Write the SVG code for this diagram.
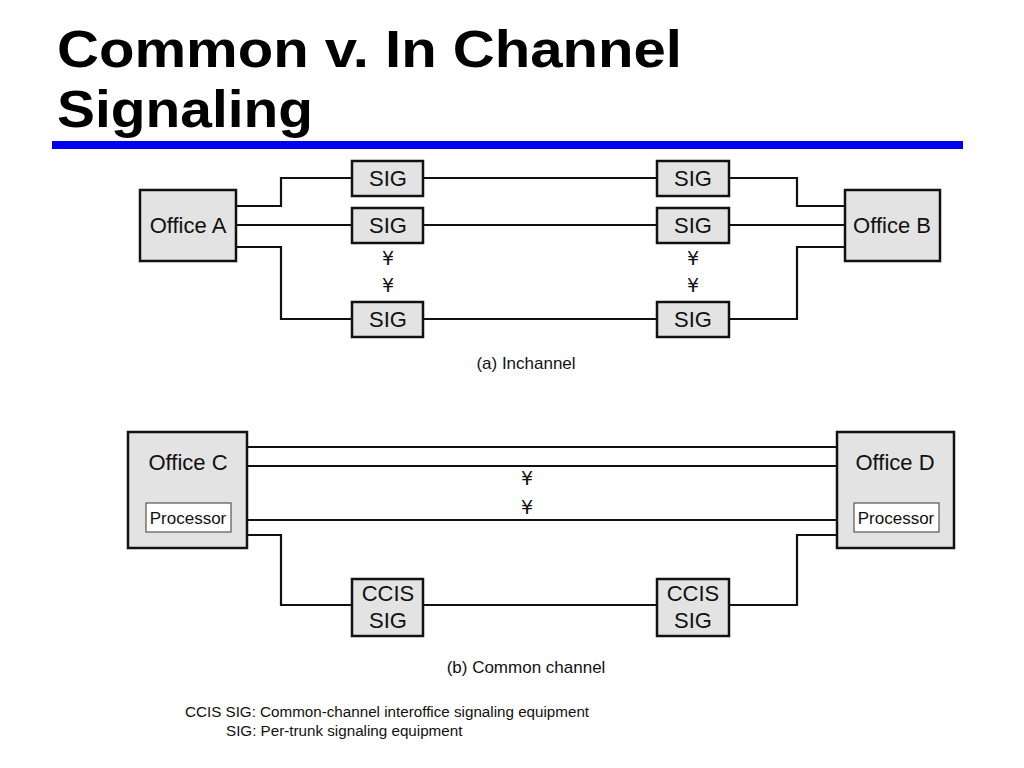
<svg xmlns="http://www.w3.org/2000/svg" width="1024" height="768" viewBox="0 0 1024 768">
<style>
.box{fill:#e3e3e3;stroke:#111;stroke-width:2.5}
.proc{fill:#fff;stroke:#555;stroke-width:1.2}
.ln{fill:none;stroke:#111;stroke-width:2.2}
.t{font-family:"Liberation Sans",Arial,sans-serif;fill:#111;text-anchor:middle}
.l{font-size:22px}
.s{font-size:17px}
.y{font-family:"DejaVu Sans","Liberation Sans",sans-serif;font-size:19px;fill:#111;text-anchor:middle}
.title{font-family:"Liberation Sans",Arial,sans-serif;font-weight:bold;font-size:52px;fill:#000}
.leg{font-family:"Liberation Sans",Arial,sans-serif;font-size:15.2px;fill:#111}
</style>
<rect width="1024" height="768" fill="#fff"/>
<text class="title" x="57" y="67" textLength="625" lengthAdjust="spacingAndGlyphs">Common v. In Channel</text>
<text class="title" x="57" y="127" textLength="256" lengthAdjust="spacingAndGlyphs">Signaling</text>
<rect x="52" y="141" width="911" height="8" fill="#0000ee"/>

<g id="connectors">
<polyline class="ln" points="236,206 281,206 281,178 352,178"/>
<line class="ln" x1="236" y1="225" x2="352" y2="225"/>
<polyline class="ln" points="236,247 281,247 281,319 352,319"/>
<line class="ln" x1="423" y1="178" x2="657" y2="178"/>
<line class="ln" x1="423" y1="225" x2="657" y2="225"/>
<line class="ln" x1="423" y1="319" x2="657" y2="319"/>
<polyline class="ln" points="729,178 797,178 797,206 845,206"/>
<line class="ln" x1="729" y1="225" x2="845" y2="225"/>
<polyline class="ln" points="729,319 797,319 797,247 845,247"/>
<line class="ln" x1="247" y1="447" x2="837" y2="447"/>
<line class="ln" x1="247" y1="466" x2="837" y2="466"/>
<line class="ln" x1="247" y1="520" x2="837" y2="520"/>
<polyline class="ln" points="247,535 281,535 281,605 352,605"/>
<line class="ln" x1="423" y1="605" x2="657" y2="605"/>
<polyline class="ln" points="729,605 797,605 797,535 837,535"/>
</g>

<g id="officeA"><rect class="box" x="140" y="190" width="96" height="71"/><text class="t l" x="188" y="233">Office A</text></g>
<g id="officeB"><rect class="box" x="845" y="190" width="95" height="71"/><text class="t l" x="892" y="233">Office B</text></g>
<g id="sigA1"><rect class="box" x="352" y="161" width="71" height="35"/><text class="t l" x="388" y="186">SIG</text></g>
<g id="sigA2"><rect class="box" x="352" y="208" width="71" height="35"/><text class="t l" x="388" y="233">SIG</text></g>
<g id="sigA3"><rect class="box" x="352" y="302" width="71" height="35"/><text class="t l" x="388" y="327">SIG</text></g>
<g id="sigB1"><rect class="box" x="657" y="161" width="72" height="35"/><text class="t l" x="693" y="186">SIG</text></g>
<g id="sigB2"><rect class="box" x="657" y="208" width="72" height="35"/><text class="t l" x="693" y="233">SIG</text></g>
<g id="sigB3"><rect class="box" x="657" y="302" width="72" height="35"/><text class="t l" x="693" y="327">SIG</text></g>
<text class="y" x="388" y="265">¥</text>
<text class="y" x="388" y="292">¥</text>
<text class="y" x="693" y="265">¥</text>
<text class="y" x="693" y="292">¥</text>
<text class="t s" x="526" y="369">(a) Inchannel</text>

<g id="officeC"><rect class="box" x="128" y="432" width="119" height="116"/><text class="t l" x="188" y="470">Office C</text>
<rect class="proc" x="146" y="503" width="85" height="29"/><text class="t s" x="188" y="524">Processor</text></g>
<g id="officeD"><rect class="box" x="837" y="432" width="117" height="116"/><text class="t l" x="895" y="470">Office D</text>
<rect class="proc" x="854" y="503" width="85" height="29"/><text class="t s" x="896" y="524">Processor</text></g>
<g id="ccisC"><rect class="box" x="352" y="579" width="71" height="57"/><text class="t l" x="388" y="601">CCIS</text><text class="t l" x="388" y="628">SIG</text></g>
<g id="ccisD"><rect class="box" x="657" y="579" width="72" height="57"/><text class="t l" x="693" y="601">CCIS</text><text class="t l" x="693" y="628">SIG</text></g>
<text class="y" x="527" y="485">¥</text>
<text class="y" x="527" y="514">¥</text>
<text class="t s" x="526" y="673">(b) Common channel</text>

<text class="leg" x="185" y="717">CCIS SIG: Common-channel interoffice signaling equipment</text>
<text class="leg" x="226" y="736">SIG: Per-trunk signaling equipment</text>
</svg>
